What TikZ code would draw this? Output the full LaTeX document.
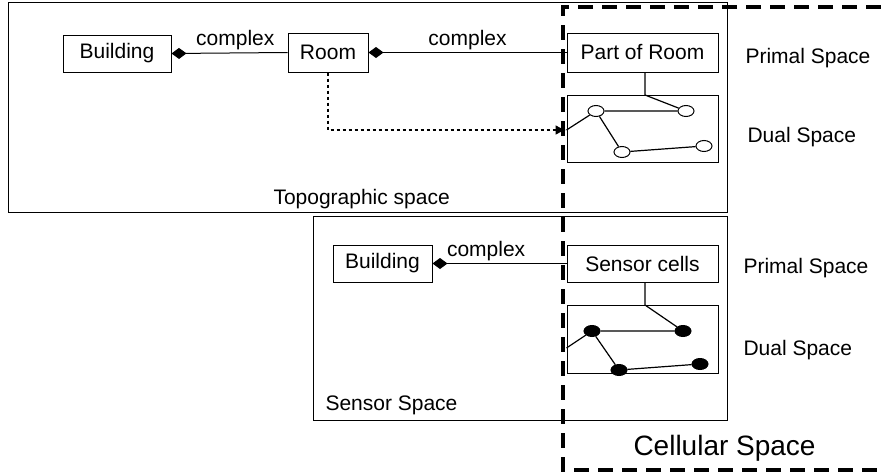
\documentclass[tikz,border=0pt]{standalone}
\usepackage{fontspec}
\setmainfont{Liberation Sans}
\usetikzlibrary{arrows.meta,shapes.geometric}

\begin{document}
\begin{tikzpicture}[
    x=1pt, y=-1pt,
    font=\fontsize{21}{24}\selectfont,
    line width=1pt,
    box/.style={
        draw,
        rectangle,
        align=center,
        inner sep=0pt
    },
    dualbox/.style={
        draw,
        rectangle,
        minimum width=151pt,
        minimum height=67pt,
        inner sep=0pt
    },
    label/.style={anchor=base west, inner sep=0pt},
    opencell/.style={draw, ellipse, fill=white, minimum width=16pt, minimum height=11pt, inner sep=0pt},
    fullcell/.style={draw, ellipse, fill=black, minimum width=16pt, minimum height=11pt, inner sep=0pt},
    comp/.style={{Diamond[length=15pt,width=11pt]}-},
    link/.style={line width=1.2pt}
]
\useasboundingbox (0,0) rectangle (881,474);

% Space frames
\node[box, minimum width=719pt, minimum height=210pt] (topo) at (367.5,107) {};
\node[box, minimum width=414pt, minimum height=204pt] (sensor) at (520,318) {};
\node[label] (topolabel) at (273,204) {Topographic space};
\node[label] (sensorlabel) at (325,410) {Sensor Space};

% Topographic space
\node[box, minimum width=108pt, minimum height=37pt] (bldg) at (117,53.5) {Building};
\node[box, minimum width=80pt, minimum height=39pt] (room) at (328,52.5) {Room};
\node[box, minimum width=151pt, minimum height=39pt] (part) at (642.5,52.5) {Part of Room};
\node[dualbox] (dualtop) at (642.5,128.5) {};

\node[opencell] (a1) at (596,111) {};
\node[opencell] (a2) at (686,111) {};
\node[opencell] (a3) at (622,152) {};
\node[opencell] (a4) at (704,146) {};

% Sensor space
\node[box, minimum width=99pt, minimum height=37pt] (sbldg) at (382.5,263.5) {Building};
\node[box, minimum width=151pt, minimum height=37pt] (cells) at (642.5,263.5) {Sensor cells};
\node[dualbox, minimum height=68pt] (dualbot) at (642.5,339) {};

\node[fullcell] (b1) at (592,331) {};
\node[fullcell] (b2) at (683,331) {};
\node[fullcell] (b3) at (619,370) {};
\node[fullcell] (b4) at (700,364) {};

% Space labels
\node[label] (primtop) at (745,63) {Primal Space};
\node[label] (dualtoplabel) at (747,142) {Dual Space};
\node[label] (primbot) at (743,273) {Primal Space};
\node[label] (dualbotlabel) at (743,355) {Dual Space};

% Aggregations
\draw[comp] (bldg.east) -- node[above=-1pt, pos=0.55] {complex} (room.west);
\draw[comp] (room.east) -- node[above=-1pt, pos=0.5] {complex} (part.west);
\draw[comp] (sbldg.east) -- node[above=-1pt, pos=0.4] {complex} (cells.west);

% Dual graphs
\coordinate (ta) at (645,95);
\coordinate (tb) at (645,305);
\draw[link] (part.south -| ta) -- (ta) -- (a2);
\draw[link] ([yshift=-1.5pt]dualtop.west) -- (a1) -- (a2);
\draw[link] (a1) -- (a3) -- (a4);
\draw[link] (cells.south -| tb) -- (tb) -- (b2);
\draw[link] ([yshift=-9pt]dualbot.west) -- (b1) -- (b2);
\draw[link] (b1) -- (b3) -- (b4);

% Mapping to cells
\draw[line width=2.8pt, dash pattern=on 3pt off 3pt, -{Latex[length=11pt,width=10pt]}]
    (room.south) |- ([yshift=-1.5pt]dualtop.west);

% Cellular space frame
\draw[line width=3.5pt, dash pattern=on 15pt off 9pt]
    (881,7) -- (563,7) -- (563,470) -- (881,470);
\node[label, font=\fontsize{28}{32}\selectfont] (cellular) at (633,455) {Cellular Space};

\end{tikzpicture}
\end{document}
